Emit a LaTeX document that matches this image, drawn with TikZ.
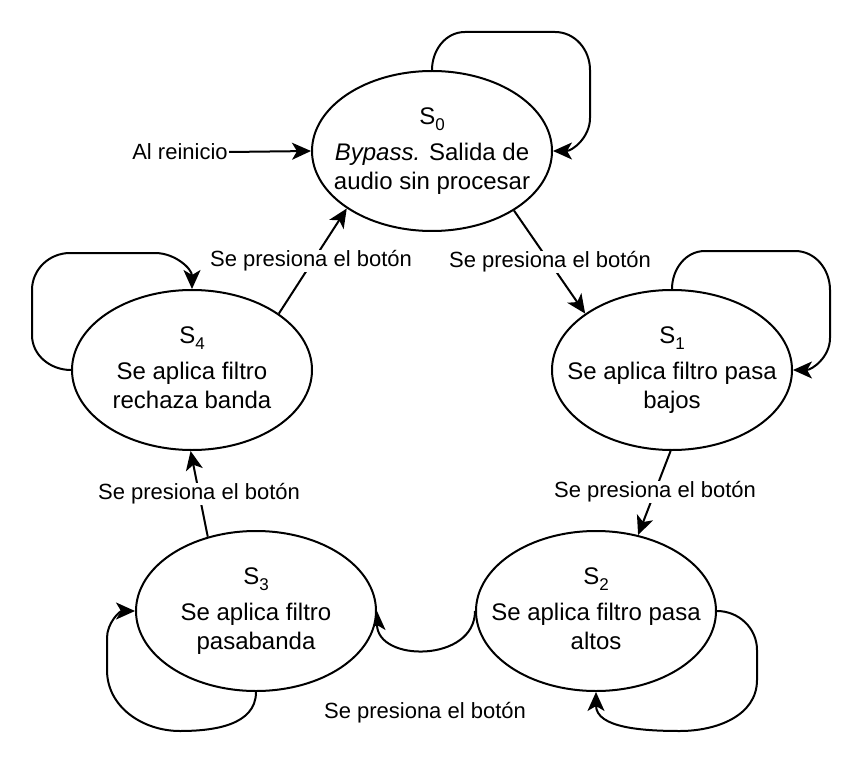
\documentclass[tikz,border=0pt]{standalone}
\usepackage{fontspec}
\setmainfont{Liberation Sans}
\usetikzlibrary{shapes.geometric}
\usetikzlibrary{arrows.meta}
\pgfdeclarelayer{edgelayer}
\pgfdeclarelayer{nodelayer}
\pgfsetlayers{edgelayer,nodelayer,main}
\tikzstyle{state} = [draw, ellipse, fill=white, line width=2pt, minimum width=240pt, minimum height=160pt, inner sep=0pt, font=\fontsize{24}{28.8}\selectfont]
\tikzstyle{caption} = [fill=white, inner sep=1pt, font=\fontsize{22}{26}\selectfont]
\tikzstyle{flow} = [line width=2pt, -{Stealth[length=19pt, width=17pt, inset=5pt]}]
\newcommand{\stateidx}[1]{\raisebox{-6pt}{\fontsize{17}{17}\selectfont #1}}
\newcommand{\statebox}[1]{\makebox[0pt]{\begin{tabular}{@{}c@{}}#1\end{tabular}}}

\begin{document}
\begin{tikzpicture}[x=1pt, y=-1pt]
	\useasboundingbox (0, 0) rectangle (862, 762);
	\begin{pgfonlayer}{nodelayer}
		\node [style=state] (0) at (432, 151) {\statebox{S\stateidx{0}\\[7pt]{\itshape Bypass.} Salida de\\audio sin procesar}};
		\node [style=state] (1) at (672, 370) {\statebox{S\stateidx{1}\\[7pt]Se aplica filtro pasa\\bajos}};
		\node [style=state] (2) at (596, 611) {\statebox{S\stateidx{2}\\[7pt]Se aplica filtro pasa\\altos}};
		\node [style=state] (3) at (256, 611) {\statebox{S\stateidx{3}\\[7pt]Se aplica filtro\\pasabanda}};
		\node [style=state] (4) at (192, 370) {\statebox{S\stateidx{4}\\[7pt]Se aplica filtro\\rechaza banda}};
		\node [style=caption] (5) at (180, 152) {Al reinicio};
		\node [style=caption] (6) at (550, 262) {Se presiona el botón};
		\node [style=caption] (7) at (655, 492) {Se presiona el botón};
		\node [style=caption] (8) at (425, 713) {Se presiona el botón};
		\node [style=caption] (9) at (199, 494) {Se presiona el botón};
		\node [style=caption] (10) at (311, 261) {Se presiona el botón};
	\end{pgfonlayer}
	\begin{pgfonlayer}{edgelayer}
		\draw [style=flow] (5.east) to (0.west);
		\draw [style=flow] (0.-36) to (1.147);
		\draw [style=flow] (1.-91) to (2.61);
		\draw [style=flow] (2.west) to [out=-90, in=-90, looseness=1.35] (3.east);
		\draw [style=flow] (3.123) to (4.-91);
		\draw [style=flow] (4.33) to (0.-146);
		% self loops
		\draw [style=flow] (0.north) to [out=90, in=180] (465, 32) -- (555, 32) to [out=0, in=90] (590, 70) -- (590, 118) to [out=-90, in=0] (0.east);
		\draw [style=flow] (1.north) to [out=90, in=180] (705, 251) -- (795, 251) to [out=0, in=90] (830, 290) -- (830, 338) to [out=-90, in=0] (1.east);
		\draw [style=flow] (2.east) to [out=0, in=90] (757, 650) -- (757, 680) to [out=-90, in=0] (680, 731) to [out=180, in=-90] (2.south);
		\draw [style=flow] (3.south) to [out=-90, in=0] (180, 731) to [out=180, in=-90] (107, 670) -- (107, 638) to [out=90, in=180] (3.west);
		\draw [style=flow] (4.west) to [out=180, in=-90] (32, 335) -- (32, 290) to [out=90, in=180] (70, 253) -- (155, 253) to [out=0, in=90] (4.north);
	\end{pgfonlayer}
\end{tikzpicture}
\end{document}
